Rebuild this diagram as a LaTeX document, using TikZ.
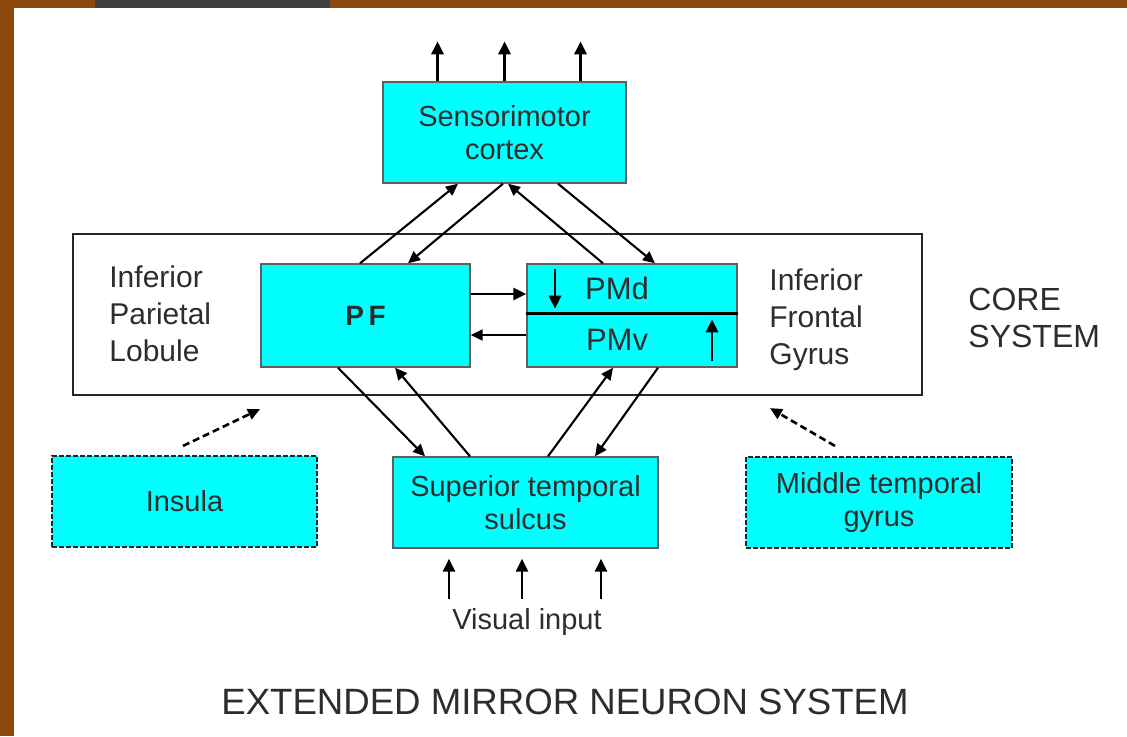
\documentclass[tikz,border=0pt]{standalone}
\usepackage{fontspec}
\setmainfont{Liberation Sans}
\usepackage{tikz}
\usetikzlibrary{arrows.meta}
\usetikzlibrary{positioning}
\definecolor{boxcyan}{RGB}{0,255,255}
\definecolor{textgray}{RGB}{45,45,45}
\definecolor{bordergray}{RGB}{95,95,95}
\definecolor{backbrown}{RGB}{140,72,12}

\begin{document}
\begin{tikzpicture}[
x=0.5pt, y=-0.5pt,
CyanBox/.style={draw=bordergray,fill=boxcyan,line width=0.7pt,inner sep=0pt,text=textgray,align=center,font=\fontsize{14.5}{16.5}\selectfont},
DashedBox/.style={CyanBox,draw=black!85,line width=1.1pt,dash pattern=on 2.5pt off 1pt},
Arrows/.style={draw=black,line width=1.05pt,-{Triangle[length=6pt,width=5.5pt]}},
ShortArrows/.style={Arrows,line width=1.4pt,-{Triangle[length=6.5pt,width=6pt]}},
DashedArrow/.style={Arrows,line width=1.3pt,dash pattern=on 3.5pt off 2pt},
Labels/.style={text=textgray,align=left,inner sep=0pt,font=\fontsize{15}{18.5}\selectfont}
]
\useasboundingbox (0,0) rectangle (1127,736);

% background
\fill[backbrown] (0,0) rectangle (1127,736);
\fill[black!75] (95,0) rectangle (330,8);
\fill[white] (14,8) rectangle (1127,736);

\node[CyanBox, minimum width=121.5pt, minimum height=50.5pt] (smc) at (504.5,132.5) {Sensorimotor\\cortex};

\node[draw=black!85, line width=1.1pt, minimum width=424.5pt, minimum height=80.5pt, inner sep=0pt] (core) at (497.5,314.5) {};

\node[CyanBox, minimum width=104.5pt, minimum height=51.5pt, font=\bfseries\fontsize{14}{16}\selectfont] (pf) at (365.5,315.5) {P\,F};
\node[CyanBox, minimum width=105pt, minimum height=24.5pt, font=\fontsize{15.5}{17}\selectfont] (pmd) at (632,288.5) {PMd\hspace*{15pt}};
\node[CyanBox, minimum width=105pt, minimum height=27pt, font=\fontsize{15.5}{17}\selectfont] (pmv) at (632,340) {PMv\hspace*{15pt}};
\draw[line width=1.4pt, black] (pmd.south west) -- (pmd.south east);

\node[CyanBox, minimum width=132.5pt, minimum height=45.5pt] (sts) at (525.5,502.5) {Superior temporal\\sulcus};
\node[DashedBox, minimum width=132.5pt, minimum height=45.5pt] (insula) at (184.5,501.5) {Insula};
\node[DashedBox, minimum width=133pt, minimum height=45.5pt] (mtg) at (879,502.5) {Middle temporal\\gyrus};

\node[Labels, anchor=west] (ipl) at (109,314) {Inferior\\Parietal\\Lobule};
\node[Labels, anchor=west] (ifg) at (769,320) {Inferior\\Frontal\\Gyrus};
\node[Labels, anchor=west, font=\fontsize{16}{18.5}\selectfont] (coresys) at (968,318) {CORE\\SYSTEM};
\node[text=textgray, font=\fontsize{14.5}{16}\selectfont] (visual) at (527,622) {Visual input};
\node[text=textgray, font=\fontsize{18.3}{20}\selectfont] (title) at (565,702) {EXTENDED MIRROR NEURON SYSTEM};

% output of sensorimotor cortex
\foreach \dx in {-33.5,0,38}
  \draw[ShortArrows] ([xshift=\dx pt]smc.north) -- ++(0,-40);

\draw[Arrows] ([xshift=-2.75pt]pf.north) -- ([xshift=-23.25pt]smc.south);
\draw[Arrows] ([xshift=-0.75pt]smc.south) -- ([xshift=21.25pt]pf.north);
\draw[Arrows] ([xshift=-14.5pt]pmd.north) -- ([xshift=1.75pt]smc.south);
\draw[Arrows] ([xshift=26.75pt]smc.south) -- ([xshift=11.5pt]pmd.north);

\draw[Arrows] ([xshift=-13.75pt]pf.south) -- ([xshift=-50.25pt]sts.north);
\draw[Arrows] ([xshift=-27.75pt]sts.north) -- ([xshift=14.75pt]pf.south);
\draw[Arrows] ([xshift=11.25pt]sts.north) -- ([xshift=-9.5pt]pmv.south);
\draw[Arrows] ([xshift=13pt]pmv.south) -- ([xshift=34.75pt]sts.north);

\draw[ShortArrows] ([yshift=10.75pt]pf.east) -- ([yshift=-2.75pt]pmd.west);
\draw[Arrows] ([yshift=2.5pt]pmv.west) -- ([yshift=-9.75pt]pf.east);

%\draw[ShortArrows] (pmd.north) -- (pmd.south);
\draw[ShortArrows] ([xshift=-38.5pt,yshift=-3pt]pmd.north) -- ([xshift=-38.5pt,yshift=2.5pt]pmd.south);
\draw[ShortArrows] ([xshift=40pt,yshift=3.5pt]pmv.south) -- ([xshift=40pt,yshift=-3.5pt]pmv.north);

% visual input
\foreach \dx in {-38.25,-1.75,37.75}
  \draw[ShortArrows] ([xshift=\dx pt,yshift=-25pt]sts.south) -- ([xshift=\dx pt,yshift=-5pt]sts.south);

\draw[DashedArrow] ([xshift=-0.75pt,yshift=4.5pt]insula.north) -- ([xshift=-118.75pt,yshift=-6.5pt]core.south);
\draw[DashedArrow] ([xshift=-22pt,yshift=5pt]mtg.north) -- ([xshift=136.25pt,yshift=-6pt]core.south);

\end{tikzpicture}
\end{document}
